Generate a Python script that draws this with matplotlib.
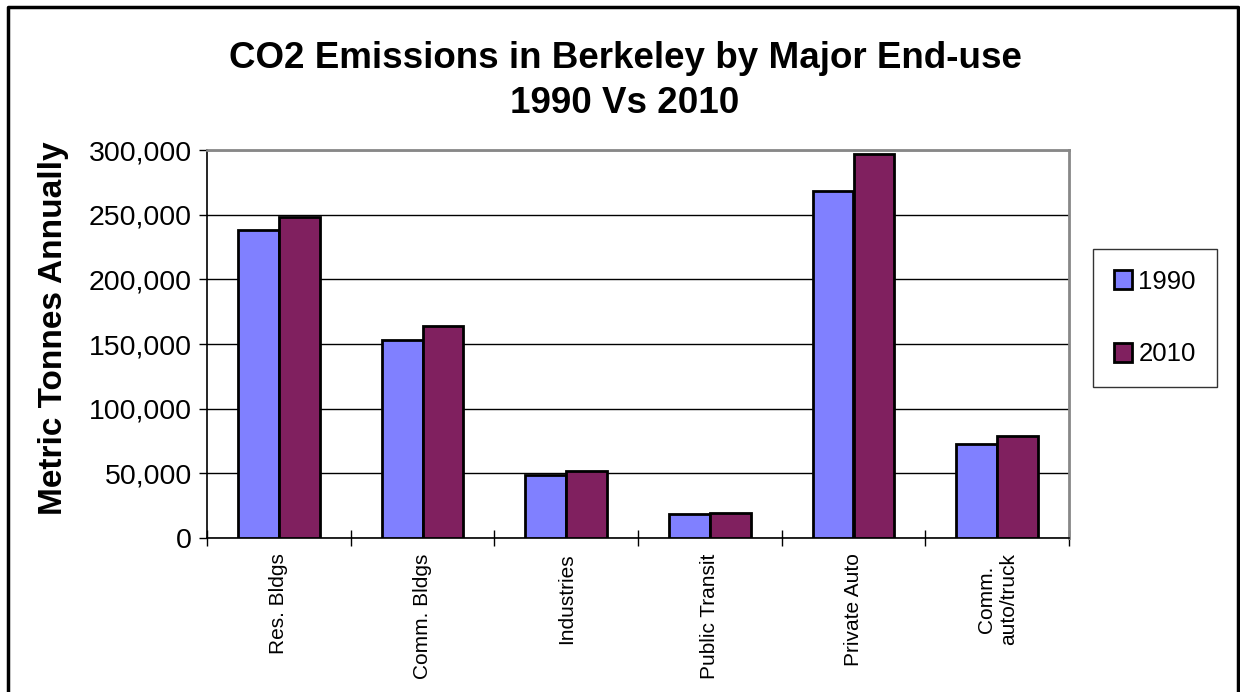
import numpy as np
import matplotlib.pyplot as plt
from matplotlib.lines import Line2D
from matplotlib.ticker import FuncFormatter, FixedLocator

categories = ['Res. Bldgs', 'Comm. Bldgs', 'Industries', 'Public Transit',
              'Private Auto', 'Comm.\nauto/truck']
y1990 = [238000, 153000, 48500, 18300, 268000, 72300]
y2010 = [248000, 164000, 52000, 19500, 297000, 79000]

plt.rcParams['font.family'] = ['Liberation Sans', 'DejaVu Sans']

fig = plt.figure(figsize=(12.4, 6.92), dpi=100)
ax = fig.add_axes([207/1240, 1-538/692, (1069-207)/1240, (538-150)/692])

x = np.arange(len(categories))
w = 0.285
ax.bar(x - w/2, y1990, w, color='#8080FF', edgecolor='black', lw=2, label='1990', zorder=3)
ax.bar(x + w/2, y2010, w, color='#80205F', edgecolor='black', lw=2, label='2010', zorder=3)

ax.set_xlim(-0.5, len(categories) - 0.5)
ax.set_ylim(0, 300000)
ax.set_yticks(np.arange(0, 300001, 50000))
ax.yaxis.set_major_formatter(FuncFormatter(lambda v, p: f'{int(v):,}'))
ax.tick_params(axis='y', labelsize=20.5, direction='out', length=6, width=1, pad=5)
ax.grid(axis='y', color='black', lw=1, zorder=0)

# category boundary ticks, labels centered under groups
ax.xaxis.set_major_locator(FixedLocator(np.arange(-0.5, len(categories), 1.0)))
ax.xaxis.set_minor_locator(FixedLocator(x))
ax.set_xticklabels([])
ax.set_xticklabels(categories, minor=True, rotation=90, fontsize=15,
                   va='top', ha='center', multialignment='center')
ax.tick_params(axis='x', which='major', direction='inout', length=12, width=1)
ax.tick_params(axis='x', which='minor', length=0, pad=11)

for s in ['top', 'right']:
    ax.spines[s].set_color('#888888')
    ax.spines[s].set_linewidth(2)
ax.spines['left'].set_linewidth(1.2)
ax.spines['bottom'].set_linewidth(1.2)

fig.text(54/1240, 1-328/692, 'Metric Tonnes Annually', rotation=90,
         ha='center', va='center', fontsize=24, fontweight='bold')
fig.text(0.504, 1-81/692, 'CO2 Emissions in Berkeley by Major End-use\n1990 Vs 2010',
         ha='center', va='center', fontsize=26.5, fontweight='bold', linespacing=1.4)

leg = ax.legend(loc='upper left', bbox_to_anchor=(1093/1240, 1-249/692),
                bbox_transform=fig.transFigure, fontsize=18.5, frameon=True,
                fancybox=False, edgecolor='black', handlelength=0.72, handleheight=0.72,
                handletextpad=0.25, labelspacing=1.9, borderpad=0.8, borderaxespad=0)
leg.get_frame().set_linewidth(1)

# outer chart border (left, top, right)
fig.add_artist(Line2D([8/1240, 8/1240, 1238/1240, 1238/1240],
                      [0, 1-7/692, 1-7/692, 0], color='black', lw=2.5,
                      transform=fig.transFigure))

fig.savefig('out.png', dpi=100)
